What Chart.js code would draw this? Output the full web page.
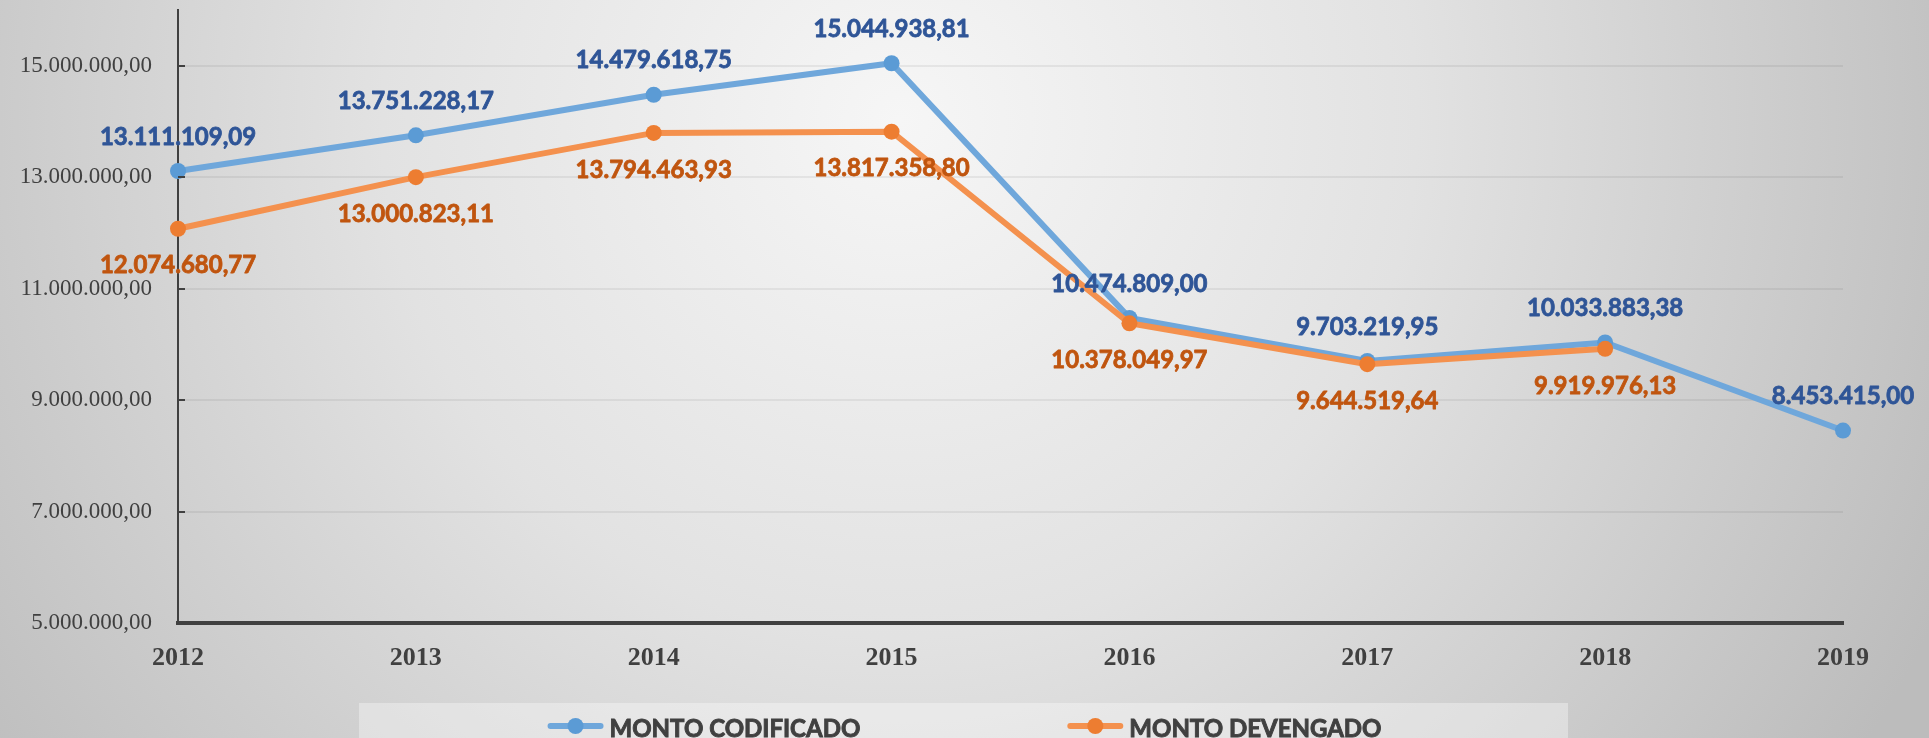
<!DOCTYPE html>
<html>
<head>
<meta charset="utf-8">
<script src="https://cdn.jsdelivr.net/npm/chart.js@4.4.1/dist/chart.umd.min.js"></script>
<style>
    html, body { margin: 0; padding: 0; background: #d0d0d0; }
    #wrap { width: 1929px; height: 738px; position: relative; }
</style>
</head>
<body>
<div id="wrap"><canvas id="grafico"></canvas></div>
<script>
const years = ['2012', '2013', '2014', '2015', '2016', '2017', '2018', '2019'];
const montoCodificado = [13111109.09, 13751228.17, 14479618.75, 15044938.81, 10474809.00, 9703219.95, 10033883.38, 8453415.00];
const montoDevengado = [12074680.77, 13000823.11, 13794463.93, 13817358.80, 10378049.97, 9644519.64, 9919976.13, null];
const yTicks = [5000000, 7000000, 9000000, 11000000, 13000000, 15000000];
const yMin = 5000000;
const yMax = 16000000;

// formato 13.111.109,09
function formatMonto(v) {
    const parts = Number(v).toFixed(2).split('.');
    return parts[0].replace(/\B(?=(\d{3})+(?!\d))/g, '.') + ',' + parts[1];
}

// fondo con degradado radial
const fondoPlugin = {
    id: 'fondo',
    beforeDraw(chart) {
        const ctx = chart.ctx;
        const w = chart.width, h = chart.height;
        const g = ctx.createRadialGradient(900, 120, 0, 900, 120, 1150);
        g.addColorStop(0, '#f6f6f6');
        g.addColorStop(0.45, '#e2e2e2');
        g.addColorStop(1, '#bcbcbc');
        ctx.save();
        ctx.fillStyle = g;
        ctx.fillRect(0, 0, w, h);
        ctx.restore();
    }
};

// marcas de division hacia adentro en el eje Y
const marcasPlugin = {
    id: 'marcas',
    afterDraw(chart) {
        const y = chart.scales.y;
        const ctx = chart.ctx;
        ctx.save();
        ctx.strokeStyle = '#404040';
        ctx.lineWidth = 2;
        y.ticks.forEach(t => {
            const py = Math.round(y.getPixelForValue(t.value));
            ctx.beginPath();
            ctx.moveTo(y.right, py);
            ctx.lineTo(y.right + 7, py);
            ctx.stroke();
        });
        ctx.restore();
    }
};

// etiquetas de valores
const etiquetasPlugin = {
    id: 'etiquetas',
    afterDatasetsDraw(chart) {
        const ctx = chart.ctx;
        ctx.save();
        ctx.font = 'bold 24px Lato, "Open Sans", sans-serif';
        ctx.textAlign = 'center';
        ctx.textBaseline = 'middle';
        ctx.lineWidth = 0.8;
        ctx.lineJoin = 'round';
        chart.data.datasets.forEach((ds, i) => {
            const meta = chart.getDatasetMeta(i);
            meta.data.forEach((pt, j) => {
                const v = ds.data[j];
                if (v === null || v === undefined) return;
                const txt = formatMonto(v);
                ctx.fillStyle = ds.labelColor;
                ctx.strokeStyle = ds.labelColor;
                ctx.fillText(txt, pt.x, pt.y + ds.labelOffset);
                ctx.strokeText(txt, pt.x, pt.y + ds.labelOffset);
            });
        });
        ctx.restore();
    }
};

// leyenda inferior
const leyendaPlugin = {
    id: 'leyenda',
    afterDraw(chart) {
        const ctx = chart.ctx;
        const items = chart.data.datasets;
        const boxLeft = 359, boxRight = 1568, boxTop = 703;
        ctx.save();
        ctx.fillStyle = 'rgba(255,255,255,0.35)';
        ctx.fillRect(boxLeft, boxTop, boxRight - boxLeft, chart.height - boxTop);

        ctx.font = 'bold 24px Lato, "Open Sans", sans-serif';
        ctx.textBaseline = 'middle';
        const markerW = 56, gapText = 6, gapItems = 207;
        const widths = items.map(ds => markerW + gapText + ctx.measureText(ds.label).width);
        const total = widths.reduce((a, b) => a + b, 0) + gapItems * (items.length - 1);
        let x = (chart.width - total) / 2;
        const cy = 726;
        items.forEach((ds, i) => {
            ctx.strokeStyle = ds.borderColor;
            ctx.lineWidth = 6;
            ctx.lineCap = 'round';
            ctx.beginPath();
            ctx.moveTo(x + 3, cy);
            ctx.lineTo(x + markerW - 3, cy);
            ctx.stroke();
            ctx.fillStyle = ds.pointBackgroundColor;
            ctx.beginPath();
            ctx.arc(x + markerW / 2, cy, 8, 0, Math.PI * 2);
            ctx.fill();
            ctx.fillStyle = '#404040';
            ctx.strokeStyle = '#404040';
            ctx.lineWidth = 0.9;
            ctx.textAlign = 'left';
            ctx.fillText(ds.label, x + markerW + gapText, cy + 3);
            ctx.strokeText(ds.label, x + markerW + gapText, cy + 3);
            x += widths[i] + gapItems;
        });
        ctx.restore();
    }
};

const ctx = document.getElementById('grafico').getContext('2d');
new Chart(ctx, {
    type: 'line',
    data: {
        labels: years,
        datasets: [
            {
                label: 'MONTO CODIFICADO',
                data: montoCodificado,
                borderColor: '#6fa7db',
                backgroundColor: '#5b9bd5',
                pointBackgroundColor: '#5b9bd5',
                pointBorderWidth: 0,
                pointRadius: 8,
                borderWidth: 6,
                tension: 0,
                order: 1,
                labelColor: '#2f5597',
                labelOffset: -34
            },
            {
                label: 'MONTO DEVENGADO',
                data: montoDevengado,
                borderColor: '#f4914e',
                backgroundColor: '#ed7d31',
                pointBackgroundColor: '#ed7d31',
                pointBorderWidth: 0,
                pointRadius: 8,
                borderWidth: 6,
                tension: 0,
                order: 0,
                labelColor: '#c0550f',
                labelOffset: 37
            }
        ]
    },
    options: {
        responsive: true,
        maintainAspectRatio: false,
        animation: false,
        devicePixelRatio: 1,
        layout: {
            padding: { top: 10, right: 86, left: 0, bottom: 0 }
        },
        scales: {
            x: {
                type: 'category',
                offset: false,
                grid: { display: false, drawTicks: false },
                border: { color: '#404040', width: 4 },
                ticks: {
                    color: '#404040',
                    font: { family: '"Liberation Serif", serif', size: 26, weight: 'bold' },
                    padding: 20,
                    maxRotation: 0,
                    autoSkip: false
                },
                afterFit(scale) {
                    scale.height = 115;
                    scale.paddingLeft = 0;
                    scale.paddingRight = 0;
                }
            },
            y: {
                min: yMin,
                max: yMax,
                grid: { color: 'rgba(0,0,0,0.06)', lineWidth: 2, drawTicks: false },
                border: { color: '#404040', width: 2 },
                ticks: {
                    color: '#404040',
                    font: { family: '"Liberation Serif", serif', size: 23 },
                    padding: 26,
                    callback: v => formatMonto(v)
                },
                afterBuildTicks(scale) {
                    scale.ticks = yTicks.map(v => ({ value: v }));
                },
                afterFit(scale) {
                    scale.width = 178;
                    scale.paddingTop = 0;
                    scale.paddingBottom = 0;
                }
            }
        },
        plugins: {
            legend: { display: false },
            tooltip: { enabled: false }
        }
    },
    plugins: [fondoPlugin, marcasPlugin, etiquetasPlugin, leyendaPlugin]
});
</script>
</body>
</html>
